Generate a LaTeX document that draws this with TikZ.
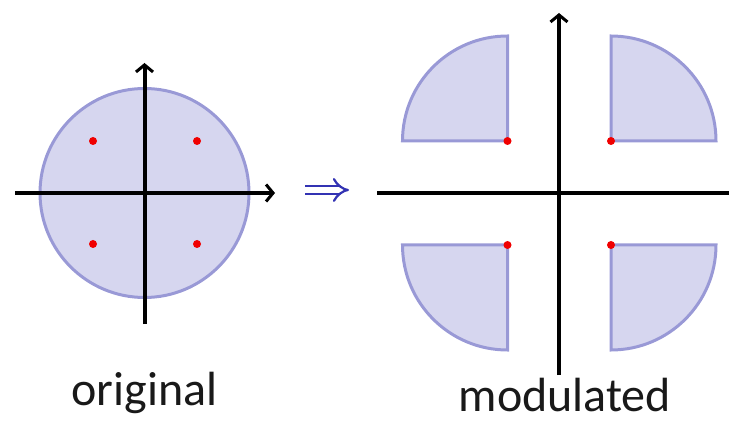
\documentclass[tikz,border=0pt]{standalone}
\usepackage{fontspec}
\setmainfont{Carlito}
\usetikzlibrary{arrows.meta}
\definecolor{regfill}{RGB}{214,214,239}
\definecolor{regline}{RGB}{153,153,214}
\definecolor{dotred}{RGB}{240,0,0}
\definecolor{implblue}{RGB}{51,51,179}
\tikzset{
  region/.style={fill=regfill, draw=regline, line width=3pt, line join=miter},
  axis/.style={line width=4pt, black},
  axisarrow/.style={axis, -{Straight Barb[length=7pt,width=17pt,line width=3pt]}},
  sym/.style={circle, fill=dotred, inner sep=0pt, minimum size=8pt},
  caption/.style={font=\fontsize{48}{58}\selectfont, anchor=base, inner sep=0pt, text=black!90},
  implies/.style={draw=implblue, double=white, double distance=6pt, line width=2.2pt, -{Implies[length=9pt]}}
}
\begin{document}
\begin{tikzpicture}[x=1pt,y=1pt]
\useasboundingbox (0,0) rectangle (729,421);
% ---------- original ----------
\coordinate (o) at (144.5,228);
\draw[region] (o) circle[radius=104.5];
\coordinate (oxl) at (15,228);
\coordinate (oxr) at (275,228);
\coordinate (oyb) at (144.5,97);
\coordinate (oyt) at (144.5,358);
\draw[axisarrow] (oxl) -- (oxr);
\draw[axisarrow] (oyb) -- (oyt);
\node[sym] (a1) at (93,280) {};
\node[sym] (a2) at (197,280) {};
\node[sym] (a3) at (93,177) {};
\node[sym] (a4) at (197,177) {};
\node[caption] (lo) at (144.5,16) {original};
% ---------- implies ----------
\coordinate (is) at (305,231);
\coordinate (ie) at (349,231);
\draw[implies] (is) -- (ie);
% ---------- modulated ----------
\coordinate (tl) at (507.5,280);
\coordinate (tr) at (611,280);
\coordinate (bl) at (507.5,176);
\coordinate (br) at (611,176);
\draw[region] (tl) -- ++(-105,0) arc[start angle=180,end angle=90,radius=105] -- cycle;
\draw[region] (tr) -- ++(105,0) arc[start angle=0,end angle=90,radius=105] -- cycle;
\draw[region] (bl) -- ++(-105,0) arc[start angle=180,end angle=270,radius=105] -- cycle;
\draw[region] (br) -- ++(105,0) arc[start angle=0,end angle=-90,radius=105] -- cycle;
\coordinate (mxl) at (377,228);
\coordinate (mxr) at (729,228);
\coordinate (myb) at (559,46);
\coordinate (myt) at (559,408);
\draw[axis] (mxl) -- (mxr);
\draw[axisarrow] (myb) -- (myt);
\node[sym] (b1) at (tl) {};
\node[sym] (b2) at (tr) {};
\node[sym] (b3) at (bl) {};
\node[sym] (b4) at (br) {};
\node[caption] (lm) at (565,10) {modulated};
\end{tikzpicture}
\end{document}
